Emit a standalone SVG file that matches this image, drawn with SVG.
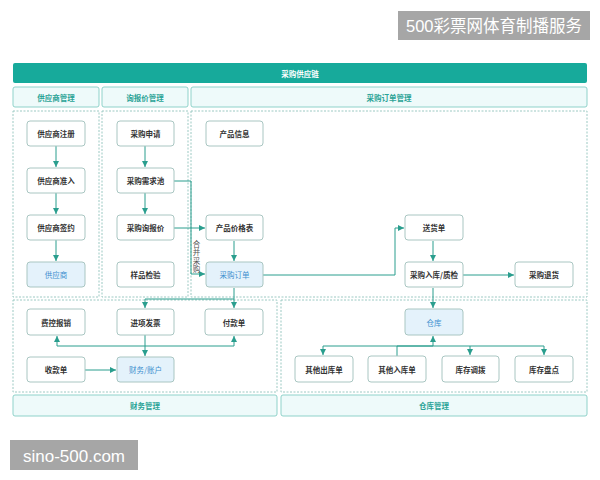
<svg xmlns="http://www.w3.org/2000/svg" width="600" height="480" viewBox="0 0 600 480">
<style>
text{font-family:"Noto Sans CJK SC","Noto Sans",sans-serif;text-anchor:middle;dominant-baseline:central}
.n{fill:#fff;stroke:#a9c6c2;stroke-width:1}
.nb{fill:#e4f2fb;stroke:#a9c6c2;stroke-width:1}
.t{font-size:7.5px;fill:#333;font-weight:bold}
.tb{font-size:7.5px;fill:#3d8fcf}
.h{fill:#eefafa;stroke:#8fd2ca;stroke-width:1}
.ht{font-size:7.5px;fill:#2aa396;font-weight:bold}
.d{fill:none;stroke:#9cc9c3;stroke-width:1;stroke-dasharray:2 1.5}
.c{fill:none;stroke:#2a9e8e;stroke-width:1}
.wm{fill:#a6a6a6}
.wt{fill:#fff;font-family:"Liberation Sans","Noto Sans CJK SC",sans-serif}
.v{font-size:7.5px;fill:#555;writing-mode:vertical-rl;text-orientation:upright;text-anchor:start;letter-spacing:1px}
</style>
<defs>
<marker id="a" viewBox="0 0 8 8" refX="8" refY="4" markerWidth="6" markerHeight="6" orient="auto" markerUnits="userSpaceOnUse">
<path d="M0,0 L8,4 L0,8 z" fill="#2a9e8e"/>
</marker>
</defs>
<rect width="600" height="480" fill="#fff"/>

<g id="watermark-top">
<rect class="wm" x="398" y="11" width="192" height="29"/>
<text class="wt" x="494" y="26" font-size="16.5">500彩票网体育制播服务</text>
</g>
<g id="watermark-bottom">
<rect class="wm" x="10" y="440" width="128" height="30"/>
<text class="wt" x="74" y="456" font-size="17">sino-500.com</text>
</g>

<g id="title">
<rect x="13" y="63" width="574" height="20" rx="2" fill="#17aa9b"/>
<text x="300" y="73.5" font-size="7.5" fill="#fff" font-weight="bold">采购供应链</text>
</g>

<g id="headers">
<rect class="h" x="13" y="87" width="86" height="20" rx="2"/>
<text class="ht" x="56" y="97.5">供应商管理</text>
<rect class="h" x="102" y="87" width="86" height="20" rx="2"/>
<text class="ht" x="145" y="97.5">询报价管理</text>
<rect class="h" x="191" y="87" width="396" height="20" rx="2"/>
<text class="ht" x="389" y="97.5">采购订单管理</text>
<rect class="h" x="13" y="395" width="264" height="21" rx="2"/>
<text class="ht" x="145" y="405.5">财务管理</text>
<rect class="h" x="281" y="395" width="306" height="21" rx="2"/>
<text class="ht" x="434" y="405.5">仓库管理</text>
</g>

<g id="regions">
<rect class="d" x="13" y="111" width="86" height="186"/>
<rect class="d" x="102" y="111" width="86" height="186"/>
<rect class="d" x="191" y="111" width="396" height="186"/>
<rect class="d" x="13" y="300" width="264" height="92"/>
<rect class="d" x="281" y="300" width="306" height="92"/>
</g>

<g id="connectors">
<path class="c" d="M56,146 V167" marker-end="url(#a)"/>
<path class="c" d="M56,193 V214" marker-end="url(#a)"/>
<path class="c" d="M56,240 V261" marker-end="url(#a)"/>
<path class="c" d="M145,146 V167" marker-end="url(#a)"/>
<path class="c" d="M145,193 V214" marker-end="url(#a)"/>
<path class="c" d="M174,181 H191 V274 H205" marker-end="url(#a)"/>
<path class="c" d="M174,228 H205" marker-end="url(#a)"/>
<path class="c" d="M234,241 V261" marker-end="url(#a)"/>
<path class="c" d="M263,275 H395 V228 H404" marker-end="url(#a)"/>
<path class="c" d="M433,241 V261" marker-end="url(#a)"/>
<path class="c" d="M463,275 H514" marker-end="url(#a)"/>
<path class="c" d="M433,288 V308" marker-end="url(#a)"/>
<path class="c" d="M234,288 V308" marker-end="url(#a)"/>
<path class="c" d="M234,299 H145 V308" marker-end="url(#a)"/>
<path class="c" d="M145,335 V356" marker-end="url(#a)"/>
<path class="c" d="M145,346 H57 V336" marker-end="url(#a)"/>
<path class="c" d="M145,346 H234 V336" marker-end="url(#a)"/>
<path class="c" d="M85,370 H116" marker-end="url(#a)"/>
<path class="c" d="M397,356 V346 H433 V336" marker-end="url(#a)"/>
<path class="c" d="M433,346 H323 V355" marker-end="url(#a)"/>
<path class="c" d="M433,346 H470 V355" marker-end="url(#a)"/>
<path class="c" d="M470,346 H544 V355" marker-end="url(#a)"/>
<text class="v" x="196.5" y="240">合并采购</text>
</g>

<g id="n-supplier-reg"><rect class="n" x="27" y="121" width="58" height="25" rx="3"/><text class="t" x="56" y="133.5">供应商注册</text></g>
<g id="n-supplier-admit"><rect class="n" x="27" y="168" width="58" height="25" rx="3"/><text class="t" x="56" y="180.5">供应商准入</text></g>
<g id="n-supplier-sign"><rect class="n" x="27" y="215" width="58" height="25" rx="3"/><text class="t" x="56" y="227.5">供应商签约</text></g>
<g id="n-supplier"><rect class="nb" x="27" y="262" width="58" height="25" rx="3"/><text class="tb" x="56" y="274.5">供应商</text></g>

<g id="n-pur-apply"><rect class="n" x="117" y="121" width="57" height="25" rx="3"/><text class="t" x="145.5" y="133.5">采购申请</text></g>
<g id="n-pur-pool"><rect class="n" x="117" y="168" width="57" height="25" rx="3"/><text class="t" x="145.5" y="180.5">采购需求池</text></g>
<g id="n-pur-quote"><rect class="n" x="117" y="215" width="57" height="25" rx="3"/><text class="t" x="145.5" y="227.5">采购询报价</text></g>
<g id="n-sample"><rect class="n" x="117" y="262" width="57" height="25" rx="3"/><text class="t" x="145.5" y="274.5">样品检验</text></g>

<g id="n-product-info"><rect class="n" x="206" y="121" width="57" height="25" rx="3"/><text class="t" x="234.5" y="133.5">产品信息</text></g>
<g id="n-price-list"><rect class="n" x="206" y="215" width="57" height="25" rx="3"/><text class="t" x="234.5" y="227.5">产品价格表</text></g>
<g id="n-pur-order"><rect class="nb" x="206" y="262" width="57" height="25" rx="3"/><text class="tb" x="234.5" y="274.5">采购订单</text></g>

<g id="n-delivery"><rect class="n" x="405" y="215" width="58" height="25" rx="3"/><text class="t" x="434" y="227.5">送货单</text></g>
<g id="n-inbound-qc"><rect class="n" x="405" y="262" width="58" height="25" rx="3"/><text class="t" x="434" y="274.5">采购入库/质检</text></g>
<g id="n-return"><rect class="n" x="515" y="262" width="58" height="25" rx="3"/><text class="t" x="544" y="274.5">采购退货</text></g>

<g id="n-expense"><rect class="n" x="27" y="309" width="58" height="26" rx="3"/><text class="t" x="56" y="322">费控报销</text></g>
<g id="n-invoice"><rect class="n" x="117" y="309" width="57" height="26" rx="3"/><text class="t" x="145.5" y="322">进项发票</text></g>
<g id="n-payment"><rect class="n" x="205" y="309" width="58" height="26" rx="3"/><text class="t" x="234" y="322">付款单</text></g>
<g id="n-receipt"><rect class="n" x="27" y="357" width="58" height="25" rx="3"/><text class="t" x="56" y="369.5">收款单</text></g>
<g id="n-account"><rect class="nb" x="117" y="357" width="57" height="25" rx="3"/><text class="tb" x="145.5" y="369.5">财务/账户</text></g>

<g id="n-warehouse"><rect class="nb" x="405" y="309" width="58" height="26" rx="3"/><text class="tb" x="434" y="322">仓库</text></g>
<g id="n-other-out"><rect class="n" x="295" y="356" width="58" height="26" rx="3"/><text class="t" x="324" y="369">其他出库单</text></g>
<g id="n-other-in"><rect class="n" x="368" y="356" width="58" height="26" rx="3"/><text class="t" x="397" y="369">其他入库单</text></g>
<g id="n-transfer"><rect class="n" x="442" y="356" width="57" height="26" rx="3"/><text class="t" x="470.5" y="369">库存调拨</text></g>
<g id="n-stocktake"><rect class="n" x="515" y="356" width="58" height="26" rx="3"/><text class="t" x="544" y="369">库存盘点</text></g>
</svg>
